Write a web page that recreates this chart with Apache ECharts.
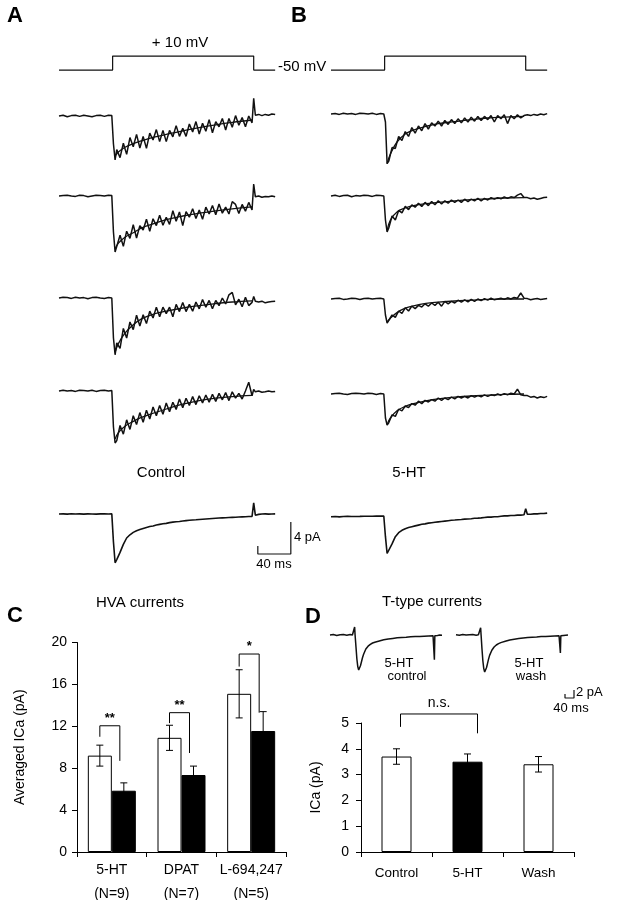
<!DOCTYPE html>
<html>
<head>
<meta charset="utf-8">
<script src="https://cdn.jsdelivr.net/npm/echarts@6/dist/echarts.min.js"></script>
<style>
html, body { margin: 0; padding: 0; background: #fff; }
#main { width: 620px; height: 900px; }
</style>
</head>
<body>
<div id="main"></div>
<script>
// ---- data ----

// voltage protocol (ms, mV)
const stepT = [0, 65, 65, 236, 236, 262];
const stepMv = [-50, -50, 10, 10, -50, -50];

// HVA current traces, time base in ms, current in pA
const tHva = [0, 5, 10, 15, 20, 25, 30, 35, 40, 45, 50, 55, 60, 64, 66, 68,
  70, 74, 78, 82, 86, 90, 94, 98, 102, 106, 110, 114, 118, 122, 126, 130, 134, 138, 142, 146,
  150, 154, 158, 162, 166, 170, 174, 178, 182, 186, 190, 194, 198, 202, 206, 210, 214, 218,
  222, 226, 230, 234, 236, 238, 242, 246, 250, 254, 258, 262];

// A: control sweeps
const ctl1 = [0, 0.1, -0.1, 0.05, 0.1, -0.05, 0.1, 0, -0.1, 0.05, 0.1, -0.05, 0.1, 0.05, -3.5, -5.5,
  -4.2, -5.2, -3.4, -4.8, -2.7, -3.85, -2.3, -4.0, -2.55, -4.05, -2.15, -3.0, -1.7, -3.2, -1.8, -3.2,
  -1.8, -2.6, -1.2, -2.55, -1.55, -2.55, -1.0, -2.0, -0.7, -2.25, -0.9, -1.9, -0.45, -2.1, -0.7, -1.35,
  -0.3, -1.75, -0.3, -1.4, 0.05, -1.15, -0.2, -1.35, 0.0, -0.85,
  2.2, 0.1, 0.2, 0.05, 0.2, 0.1, 0.25, 0.2];
const ctl2 = [0, 0.05, 0.1, 0, -0.05, 0.1, 0.05, -0.1, 0, 0.1, 0.05, 0, 0.1, 0.05, -4.5, -7.0,
  -6.8, -4.9, -6.3, -4.4, -5.3, -3.6, -5.25, -3.7, -4.25, -2.9, -4.4, -2.85, -3.7, -2.4, -3.65, -2.65,
  -3.55, -1.85, -3.15, -2.0, -3.7, -1.95, -2.65, -1.6, -2.8, -1.75, -2.9, -1.4, -2.25, -1.2, -2.35, -1.0,
  -2.15, -1.4, -2.25, -0.7, -1.05, -2.2, -1.05, -1.9, -0.8, -1.75,
  1.5, -0.1, 0.0, -0.15, -0.05, -0.1, 0.0, -0.1];
const ctl3 = [0, 0.1, 0.05, -0.05, 0.1, 0, 0.05, -0.1, 0.05, 0.1, 0, -0.05, 0.05, 0, -5.0, -7.1,
  -5.6, -6.3, -3.8, -5.0, -3.0, -3.95, -2.15, -3.5, -2.1, -3.2, -1.65, -2.5, -1.15, -2.35, -1.15, -1.95,
  -1.15, -2.35, -0.8, -1.7, -0.55, -1.7, -0.8, -1.65, -0.5, -1.35, -0.2, -1.15, -0.3, -1.35, -0.3, -0.95,
  0.0, -0.75, 0.4, 0.7, -0.85, -0.15, -1.1, 0.1, -0.95, -0.55,
  0.2, -0.4, -0.5, -0.4, -0.6, -0.5, -0.45, -0.4];
const ctl4 = [0, 0.1, 0, 0.05, -0.05, 0.1, 0.05, 0, 0.1, -0.05, 0.05, 0.1, 0, 0.05, -4.5, -6.5,
  -6.2, -4.3, -5.4, -3.6, -4.8, -3.1, -4.2, -2.7, -3.9, -2.4, -3.5, -2.0, -3.1, -1.8, -2.9, -1.5,
  -2.6, -1.4, -2.3, -1.0, -2.1, -0.9, -1.8, -0.7, -1.7, -0.6, -1.5, -0.5, -1.4, -0.4, -1.3, -0.3,
  -1.1, -0.2, -1.2, -0.1, -0.9, -0.3, -1.0, 0.0, 1.1, -0.6,
  0.2, -0.1, 0.0, -0.15, -0.1, 0.0, -0.1, -0.05];
const ctlAvg = [0, 0.02, -0.02, 0.03, 0, 0.02, -0.01, 0.02, 0, -0.02, 0.02, 0.01, 0, 0.02, -3.5, -6.1,
  -5.7, -4.8, -3.8, -3.0, -2.6, -2.3, -2.1, -1.95, -1.8, -1.68, -1.56, -1.5, -1.38, -1.3, -1.22, -1.17,
  -1.08, -1.02, -0.97, -0.93, -0.87, -0.83, -0.79, -0.75, -0.72, -0.68, -0.65, -0.62, -0.59, -0.56, -0.53, -0.5,
  -0.48, -0.46, -0.44, -0.42, -0.4, -0.38, -0.36, -0.34, -0.32, -0.3,
  1.4, -0.15, -0.05, 0.0, 0.02, -0.02, 0.0, 0.01];

// B: sweeps in 5-HT
const ht1 = [0, 0.05, -0.05, 0.1, 0, 0.05, -0.05, 0.1, 0.05, 0, 0.1, -0.05, 0.05, 0, -1.0, -6.2,
  -5.9, -4.2, -4.3, -2.8, -3.3, -2.2, -2.8, -1.7, -2.4, -1.5, -2.1, -1.2, -1.9, -1.1, -1.5, -0.9,
  -1.5, -0.8, -1.3, -0.7, -1.2, -0.6, -1.1, -0.5, -1.0, -0.4, -0.9, -0.3, -0.8, -0.3, -0.7, -0.2,
  -1.0, -0.2, -0.6, -0.1, -1.2, -0.2, -0.6, -0.1, -0.5, -0.2,
  -0.3, -0.1, -0.2, -0.05, -0.15, 0.0, -0.1, 0.05];
const ht2 = [0, 0.1, -0.05, 0.05, 0.1, -0.1, 0.05, 0, 0.1, 0.05, -0.05, 0.1, 0.05, 0, -3.0, -4.5,
  -4.0, -2.5, -3.0, -1.8, -2.1, -1.3, -1.7, -1.1, -1.4, -0.9, -1.3, -0.8, -1.2, -0.7, -1.1, -0.6,
  -1.0, -0.6, -0.9, -0.5, -0.8, -0.5, -0.8, -0.4, -0.7, -0.4, -0.6, -0.3, -0.6, -0.3, -0.5, -0.2,
  -0.4, -0.2, -0.35, -0.1, -0.3, -0.1, -0.2, 0.1, 0.3, -0.2,
  -0.3, -0.2, -0.35, -0.25, -0.4, -0.3, -0.2, -0.15];
const ht3 = [0, 0.05, 0.1, -0.05, 0, 0.1, 0.05, -0.05, 0.05, 0.1, 0, 0.05, 0.1, 0, -2.0, -3.0,
  -2.8, -2.0, -2.3, -1.5, -1.8, -1.1, -1.5, -0.9, -1.2, -0.8, -1.0, -0.6, -0.9, -0.5, -0.8, -0.4,
  -0.9, -0.3, -0.6, -0.3, -0.5, -0.15, -0.4, -0.1, -0.35, -0.05, -0.3, 0.0, -0.2, 0.05, -0.15, 0.1,
  -0.1, 0.0, 0.1, -0.05, 0.15, 0.0, 0.2, 0.1, 0.75, 0.1,
  -0.15, 0.05, -0.1, 0.0, 0.05, -0.05, 0.0, 0.05];
const ht4 = [0, 0.05, 0.1, 0, -0.05, 0.05, 0.1, 0.05, 0, 0.1, 0.05, -0.05, 0.05, 0, -3.0, -3.9,
  -3.6, -2.6, -2.8, -1.9, -2.1, -1.5, -1.7, -1.2, -1.4, -0.9, -1.2, -0.8, -1.0, -0.7, -0.9, -0.5,
  -0.8, -0.5, -0.7, -0.4, -0.6, -0.3, -0.5, -0.3, -0.5, -0.2, -0.4, -0.2, -0.35, -0.1, -0.3, -0.1,
  -0.2, 0.0, -0.15, 0.05, -0.1, 0.1, 0.0, 0.6, -0.1, -0.2,
  -0.3, -0.2, -0.4, -0.3, -0.5, -0.35, -0.45, -0.3];
const htAvg = [0, 0.02, -0.02, 0.03, 0.05, 0.02, 0.03, 0.04, 0.06, 0.05, 0.06, 0.08, 0.07, 0.08, -2.5, -4.6,
  -4.4, -3.4, -2.5, -2.0, -1.7, -1.5, -1.35, -1.25, -1.15, -1.05, -0.95, -0.9, -0.8, -0.75, -0.7, -0.65,
  -0.6, -0.55, -0.5, -0.45, -0.42, -0.38, -0.35, -0.3, -0.28, -0.25, -0.2, -0.18, -0.15, -0.1, -0.05, -0.05,
  0.0, 0.0, 0.05, 0.1, 0.1, 0.15, 0.15, 0.2, 0.2, 0.25,
  1.0, 0.3, 0.3, 0.35, 0.35, 0.4, 0.4, 0.45];

// exponential fits drawn over the single sweeps
const tFit = [68, 72, 80, 90, 100, 115, 130, 150, 170, 190, 210, 234];
const ctlFit1 = [-5.0, -4.5, -3.9, -3.45, -3.1, -2.65, -2.3, -1.85, -1.45, -1.1, -0.8, -0.5];
const ctlFit2 = [-6.6, -5.9, -5.15, -4.6, -4.0, -3.45, -2.95, -2.5, -2.15, -1.85, -1.6, -1.35];
const ctlFit3 = [-6.8, -5.7, -4.4, -3.35, -2.6, -2.0, -1.65, -1.25, -0.95, -0.7, -0.5, -0.35];
const ctlFit4 = [-6.0, -5.2, -4.4, -3.8, -3.3, -2.75, -2.25, -1.65, -1.2, -0.9, -0.7, -0.55];
const htFit1 = [-6.2, -5.0, -3.5, -2.5, -2.0, -1.55, -1.2, -0.95, -0.7, -0.5, -0.4, -0.3];
const htFit2 = [-4.3, -3.0, -2.0, -1.5, -1.2, -0.95, -0.8, -0.6, -0.45, -0.35, -0.25, -0.2];
const htFit3 = [-2.9, -2.4, -1.7, -1.15, -0.85, -0.55, -0.4, -0.25, -0.15, -0.05, 0.0, 0.0];
const htFit4 = [-3.8, -3.0, -2.1, -1.55, -1.2, -0.85, -0.6, -0.4, -0.25, -0.15, -0.05, 0.0];

// scale bar for A/B: 40 ms, 4 pA
const scaleT = [241, 241, 281, 281];
const scaleI = [-4, -5, -5, -1];

// D: T-type current traces (ms, pA)
const tT = [0, 15, 30, 45, 60, 75, 90, 100, 108, 110, 112, 116, 120, 124, 128, 132, 136, 140, 145, 150,
  160, 170, 180, 190, 200, 220, 240, 260, 280, 300, 320, 340, 360, 380, 400, 420, 440, 460, 464, 466,
  468, 480, 490, 500];
const tCtl = [0, 0.1, -0.1, 0.05, 0.1, -0.05, 0.1, 0, 0.05, 2.0, 0, -3, -6, -7.9, -8.75, -8.5, -7.7, -6.8, -5.7, -4.8,
  -3.5, -2.8, -2.35, -2.0, -1.8, -1.5, -1.2, -1.0, -0.85, -0.7, -0.6, -0.55, -0.45, -0.4, -0.35, -0.3, -0.25, -0.2, -0.2, -6.2,
  -0.2, -0.1, 0.0, -0.05];
const tWash = [0.05, -0.05, 0.1, 0, 0.05, 0.1, -0.05, 0.05, 0, 1.8, 0, -3.5, -6.5, -8.4, -9.25, -9.0, -8.2, -7.3, -6.1, -5.1,
  -3.8, -3.0, -2.5, -2.15, -1.9, -1.55, -1.25, -1.05, -0.9, -0.75, -0.65, -0.55, -0.5, -0.4, -0.35, -0.3, -0.25, -0.2, -0.2, -4.5,
  -0.2, -0.1, -0.05, 0];
const tScaleT = [0, 0, 40, 40];
const tScaleI = [1, 0, 0, 2];

// C: HVA currents, mean and SEM (pA)
const hvaGroups = ['5-HT\n(N=9)', 'DPAT\n(N=7)', 'L-694,247\n(N=5)'];
const hvaCtrl = [9.2, 10.9, 15.1];
const hvaCtrlErr = [1.0, 1.2, 2.3];
const hvaDrug = [5.85, 7.35, 11.55];
const hvaDrugErr = [0.75, 0.85, 1.85];
const hvaSigTop = [12.05, 13.3, 18.9];
const hvaSigLeft = [11.0, 12.3, 17.7];
const hvaSigRight = [8.7, 9.45, 13.3];
const hvaSigMark = ['**', '**', '*'];
const hvaTicks = [0, 4, 8, 12, 16, 20];

// D: T-type currents
const ttGroups = ['Control', '5-HT', 'Wash'];
const ttMean = [3.7, 3.5, 3.4];
const ttErr = [0.3, 0.3, 0.3];
const ttSig = [[0, 1, 5.35, 4.85, 4.6]];
const ttSigMark = ['n.s.'];

// ---- chart ----
const chart = echarts.init(document.getElementById('main'));
const FONT = 'Liberation Sans';
const INK = '#111';
const ttFill = ['#fff', '#000', '#fff'];

let grids = [], xAxes = [], yAxes = [], series = [];

function addGrid(left, top, width, height, xr, yr) {
  grids.push({ left: left, top: top, width: width, height: height, containLabel: false, outerBoundsMode: 'none' });
  let i = grids.length - 1;
  xAxes.push({ gridIndex: i, type: 'value', min: xr[0], max: xr[1], show: false });
  yAxes.push({ gridIndex: i, type: 'value', min: yr[0], max: yr[1], show: false });
  return i;
}

function pairs(xs, ys) {
  return xs.map((x, k) => [x, ys[k]]);
}

function addLine(i, data, width, smooth) {
  series.push({
    type: 'line', xAxisIndex: i, yAxisIndex: i, data: data,
    symbol: 'none', smooth: smooth || false, silent: true, clip: false,
    lineStyle: { color: INK, width: width }
  });
}

// trace geometry: 0.825 px per ms, 8 px per pA
const traceW = 282 * 0.825;
const aTops = [108, 188, 290, 383, 506];
const bTops = [106, 188, 291, 386, 508.7];
const ctlSweeps = [ctl1, ctl2, ctl3, ctl4, ctlAvg];
const htSweeps = [ht1, ht2, ht3, ht4, htAvg];
const ctlFits = [ctlFit1, ctlFit2, ctlFit3, ctlFit4];
const htFits = [htFit1, htFit2, htFit3, htFit4];

[[59, aTops, ctlSweeps, ctlFits], [331, bTops, htSweeps, htFits]].forEach(([left, tops, sweeps, fits]) => {
  let v = addGrid(left, 53.7, traceW, 18.7, [0, 282], [-60, 20]);
  addLine(v, pairs(stepT, stepMv), 1.2);
  tops.forEach((top, k) => {
    let g = addGrid(left, top, traceW, 64, [0, 282], [-7, 1]);
    addLine(g, pairs(tHva, sweeps[k]), k < 4 ? 1.5 : 1.6);
    if (k < 4) addLine(g, pairs(tFit, fits[k]), 1.3, 0.4);
    if (k === 4 && left === 59) addLine(g, pairs(scaleT, scaleI), 1.2);
  });
});

// T-type traces (0.224 px per ms, 4 px per pA)
let gc = addGrid(330, 627, 112, 48, [0, 500], [-10, 2]);
addLine(gc, pairs(tT, tCtl), 1.5);
let gw = addGrid(456, 627, 112, 48, [0, 500], [-10, 2]);
addLine(gw, pairs(tT, tWash), 1.5);
let gs = addGrid(565, 690, 9, 8, [0, 40], [0, 2]);
addLine(gs, pairs(tScaleT, tScaleI), 1.2);

// bar panels
const axisLine = { show: true, lineStyle: { color: '#000', width: 1 } };
const axisTick = { show: true, length: 5, lineStyle: { color: '#000', width: 1 } };

grids.push({ left: 77, top: 642.5, width: 209, height: 209.5, containLabel: false, outerBoundsMode: 'none' });
const iC = grids.length - 1;
xAxes.push({
  gridIndex: iC, type: 'category', data: hvaGroups, axisLine: axisLine, axisTick: axisTick,
  axisLabel: { color: '#000', fontFamily: FONT, fontSize: 14, lineHeight: 24, margin: 6,
    interval: 0, hideOverlap: false }
});
yAxes.push({
  gridIndex: iC, type: 'value', min: hvaTicks[0], max: hvaTicks[hvaTicks.length - 1], interval: 4,
  axisLine: axisLine, axisTick: axisTick, splitLine: { show: false },
  axisLabel: { color: '#000', fontFamily: FONT, fontSize: 14, margin: 10 },
  name: 'Averaged ICa (pA)', nameLocation: 'middle', nameGap: 50,
  nameTextStyle: { color: '#000', fontFamily: FONT, fontSize: 14 }
});

grids.push({ left: 361, top: 723, width: 213, height: 129, containLabel: false, outerBoundsMode: 'none' });
const iD = grids.length - 1;
xAxes.push({
  gridIndex: iD, type: 'category', data: ttGroups, axisLine: axisLine, axisTick: axisTick,
  axisLabel: { color: '#000', fontFamily: FONT, fontSize: 13.5, lineHeight: 16, margin: 13,
    interval: 0, hideOverlap: false }
});
yAxes.push({
  gridIndex: iD, type: 'value', min: 0, max: 5, interval: 1,
  axisLine: axisLine, axisTick: axisTick, splitLine: { show: false },
  axisLabel: { color: '#000', fontFamily: FONT, fontSize: 14, margin: 12 },
  name: 'ICa (pA)', nameLocation: 'middle', nameGap: 38,
  nameTextStyle: { color: '#000', fontFamily: FONT, fontSize: 14 }
});

function errItem(offset) {
  return function (params, api) {
    let c = api.value(0), m = api.value(1), e = api.value(2);
    let hi = api.coord([c, m + e]), lo = api.coord([c, m - e]);
    let x = hi[0] + offset, w = 3.5;
    let st = { stroke: '#000', lineWidth: 1 };
    return {
      type: 'group', children: [
        { type: 'line', shape: { x1: x, y1: hi[1], x2: x, y2: lo[1] }, style: st },
        { type: 'line', shape: { x1: x - w, y1: hi[1], x2: x + w, y2: hi[1] }, style: st },
        { type: 'line', shape: { x1: x - w, y1: lo[1], x2: x + w, y2: lo[1] }, style: st }
      ]
    };
  };
}

function bracketItem(dl, dr, marks, font, lift) {
  return function (params, api) {
    let a = api.coord([api.value(0), api.value(2)]);
    let b = api.coord([api.value(1), api.value(2)]);
    let yl = api.coord([api.value(0), api.value(3)])[1];
    let yr = api.coord([api.value(1), api.value(4)])[1];
    let xl = a[0] + dl, xr = b[0] + dr;
    return {
      type: 'group', children: [
        { type: 'polyline', shape: { points: [[xl, yl], [xl, a[1]], [xr, a[1]], [xr, yr]] },
          style: { stroke: '#000', fill: 'none', lineWidth: 1 } },
        { type: 'text', x: (xl + xr) / 2, y: a[1] - lift,
          style: { text: marks[params.dataIndex], font: font, fill: '#000',
            textAlign: 'center', textVerticalAlign: 'bottom', align: 'center', verticalAlign: 'bottom' } }
      ]
    };
  };
}

series.push({
  type: 'bar', xAxisIndex: iC, yAxisIndex: iC, data: hvaCtrl, barWidth: 24, barGap: '0%',
  itemStyle: { color: '#fff', borderColor: '#000', borderWidth: 1 }, silent: true
});
series.push({
  type: 'bar', xAxisIndex: iC, yAxisIndex: iC, data: hvaDrug, barWidth: 24, barGap: '0%',
  itemStyle: { color: '#000', borderColor: '#000', borderWidth: 1 }, silent: true
});
series.push({
  type: 'custom', xAxisIndex: iC, yAxisIndex: iC, z: 5, silent: true,
  data: hvaCtrl.map((v, k) => [k, v, hvaCtrlErr[k]]), encode: { x: 0, y: 1 },
  renderItem: errItem(-12)
});
series.push({
  type: 'custom', xAxisIndex: iC, yAxisIndex: iC, z: 5, silent: true,
  data: hvaDrug.map((v, k) => [k, v, hvaDrugErr[k]]), encode: { x: 0, y: 1 },
  renderItem: errItem(12)
});
series.push({
  type: 'custom', xAxisIndex: iC, yAxisIndex: iC, z: 5, silent: true,
  data: hvaSigTop.map((v, k) => [k, k, v, hvaSigLeft[k], hvaSigRight[k]]), encode: { x: [0, 1], y: [2, 3, 4] },
  renderItem: bracketItem(-12, 8, hvaSigMark, 'bold 13px ' + FONT, 1)
});

series.push({
  type: 'bar', xAxisIndex: iD, yAxisIndex: iD, barWidth: 30, silent: true,
  data: ttMean.map((v, k) => ({ value: v, itemStyle: { color: ttFill[k], borderColor: '#000', borderWidth: 1 } }))
});
series.push({
  type: 'custom', xAxisIndex: iD, yAxisIndex: iD, z: 5, silent: true,
  data: ttMean.map((v, k) => [k, v, ttErr[k]]), encode: { x: 0, y: 1 },
  renderItem: errItem(0)
});
series.push({
  type: 'custom', xAxisIndex: iD, yAxisIndex: iD, z: 5, silent: true,
  data: ttSig, encode: { x: [0, 1], y: [2, 3, 4] },
  renderItem: bracketItem(4, 10, ttSigMark, '14px ' + FONT, 4)
});

function txt(x, y, text, size, align, bold) {
  return {
    type: 'text', x: x, y: y, silent: true,
    style: {
      text: text, font: (bold ? 'bold ' : '') + size + 'px ' + FONT, fill: '#000',
      textAlign: align, textVerticalAlign: 'middle', align: align, verticalAlign: 'middle'
    }
  };
}

const labels = [
  txt(7, 16, 'A', 22, 'left', true),
  txt(291, 16, 'B', 22, 'left', true),
  txt(180, 43, '+ 10 mV', 15, 'center'),
  txt(278, 67, '-50 mV', 15, 'left'),
  txt(161, 473, 'Control', 15, 'center'),
  txt(409, 473, '5-HT', 15, 'center'),
  txt(294, 537, '4 pA', 13, 'left'),
  txt(274, 564, '40 ms', 13, 'center'),
  txt(7, 616, 'C', 22, 'left', true),
  txt(305, 617, 'D', 22, 'left', true),
  txt(140, 603, 'HVA currents', 15, 'center'),
  txt(432, 602, 'T-type currents', 15, 'center'),
  txt(399, 663, '5-HT', 13, 'center'),
  txt(407, 676, 'control', 13, 'center'),
  txt(529, 663, '5-HT', 13, 'center'),
  txt(531, 676, 'wash', 13, 'center'),
  txt(576, 692, '2 pA', 13, 'left'),
  txt(571, 708, '40 ms', 13, 'center')
];

chart.setOption({
  backgroundColor: '#fff',
  animation: false,
  textStyle: { fontFamily: FONT },
  grid: grids,
  xAxis: xAxes,
  yAxis: yAxes,
  series: series,
  graphic: labels
});
</script>
</body>
</html>
